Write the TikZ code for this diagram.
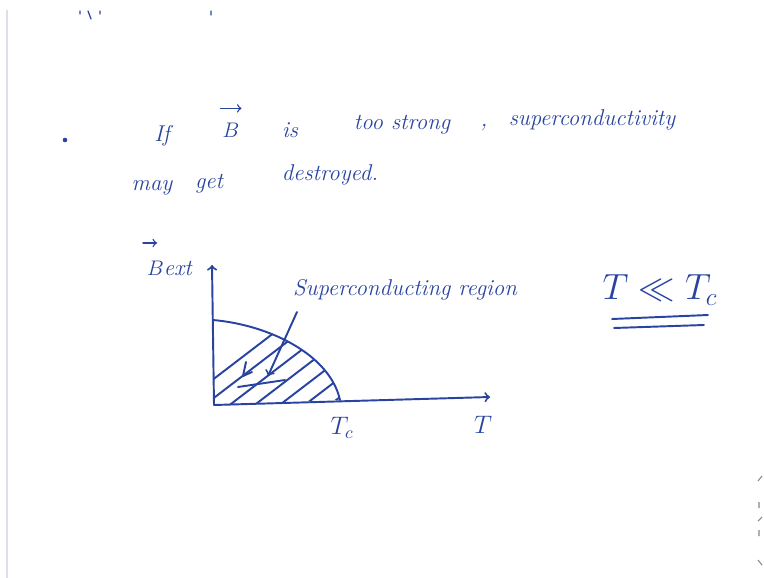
\documentclass[tikz,border=0pt]{standalone}
\usepackage{amsmath,amssymb}
\usepackage{tikz}
\definecolor{ink}{RGB}{40,68,160}
\definecolor{edge}{RGB}{225,222,235}
\tikzset{
  hand/.style={ink,font=\fontsize{13}{15}\selectfont\itshape,inner sep=1pt},
  stroke/.style={ink,line width=1.1pt,line cap=round,line join=round},
  vecarrow/.style={ink,line width=0.8pt,->,line cap=round},
}

\begin{document}
\begin{tikzpicture}[x=0.02cm,y=-0.02cm]
\useasboundingbox[fill=white] (0,0) rectangle (764,578);
\draw[edge,line width=0.6pt] (7,10) -- (7,578);
% scraps of the line above
\draw[stroke,line width=0.7pt] (80,11) -- (80,14) (88,11) -- (91,19) (100,11) -- (100,14) (211,11) -- (211,15);
% first sentence
\fill[ink] (65,140) circle (2.3);
\node[hand] (if) at (162,136) {If};
\node[hand] (bvec) at (231,130) {$B$};
\draw[vecarrow] ([yshift=7pt]bvec.north west) -- ([yshift=7pt]bvec.north east);
\node[hand] (is) at (290,130) {is};
\node[hand] (strong) at (402,125) {too strong};
\node[hand] (comma) at (484,128) {,};
\node[hand] (supcond) at (592,120) {superconductivity};
\node[hand] (may) at (152,188) {may};
\node[hand] (get) at (209,184) {get};
\node[hand] (destr) at (330,175) {destroyed.};
% phase diagram
\coordinate (O) at (214,405);
\coordinate (ytop) at (212,265);
\coordinate (xend) at (490,397);
\coordinate (ycut) at (213,320);
\coordinate (Tc) at (340,400);
\begin{scope}
  \clip (O) -- (ycut) .. controls (270,325) and (330,355) .. (Tc) -- cycle;
  \foreach \i in {0,...,7}
    \draw[stroke] (160+\i*25,420) -- ++(170,-130);
\end{scope}
\draw[stroke,->] (O) -- (ytop);
\draw[stroke,->] (O) -- (xend);
\draw[stroke] (ycut) .. controls (270,325) and (330,355) .. (Tc);
\node[hand,anchor=west] (bext) at (145,268) {$B$ext};
\draw[vecarrow] (143,243) -- (157,243);
\node[hand] (scr) at (405,290) {Superconducting region};
\coordinate (arrtail) at (297,312);
\coordinate (arrtip) at (268,376);
\draw[stroke,->] (arrtail) -- (arrtip);
\draw[stroke] (246,362) -- (243,376) -- (252,372);
\draw[stroke] (238,387) -- (285,380);
\node[hand,font=\Large] (tc) at (342,428) {$T_c$};
\node[hand,font=\Large] (tlab) at (483,425) {$T$};
% condition
\node[hand,font=\huge] (cond) at (660,290) {$T \ll T_c$};
\coordinate (ua) at (612,319);
\coordinate (ub) at (708,315);
\coordinate (uc) at (614,328);
\coordinate (ud) at (704,325);
\draw[stroke] (ua) -- (ub);
\draw[stroke] (uc) -- (ud);
% scraps at the right edge
\draw[edge!60!black,line width=0.6pt] (758,481) -- (762,476) (759,502) -- (759,508) (758,521) -- (762,517) (759,530) -- (759,536) (758,560) -- (762,565);
\end{tikzpicture}
\end{document}
